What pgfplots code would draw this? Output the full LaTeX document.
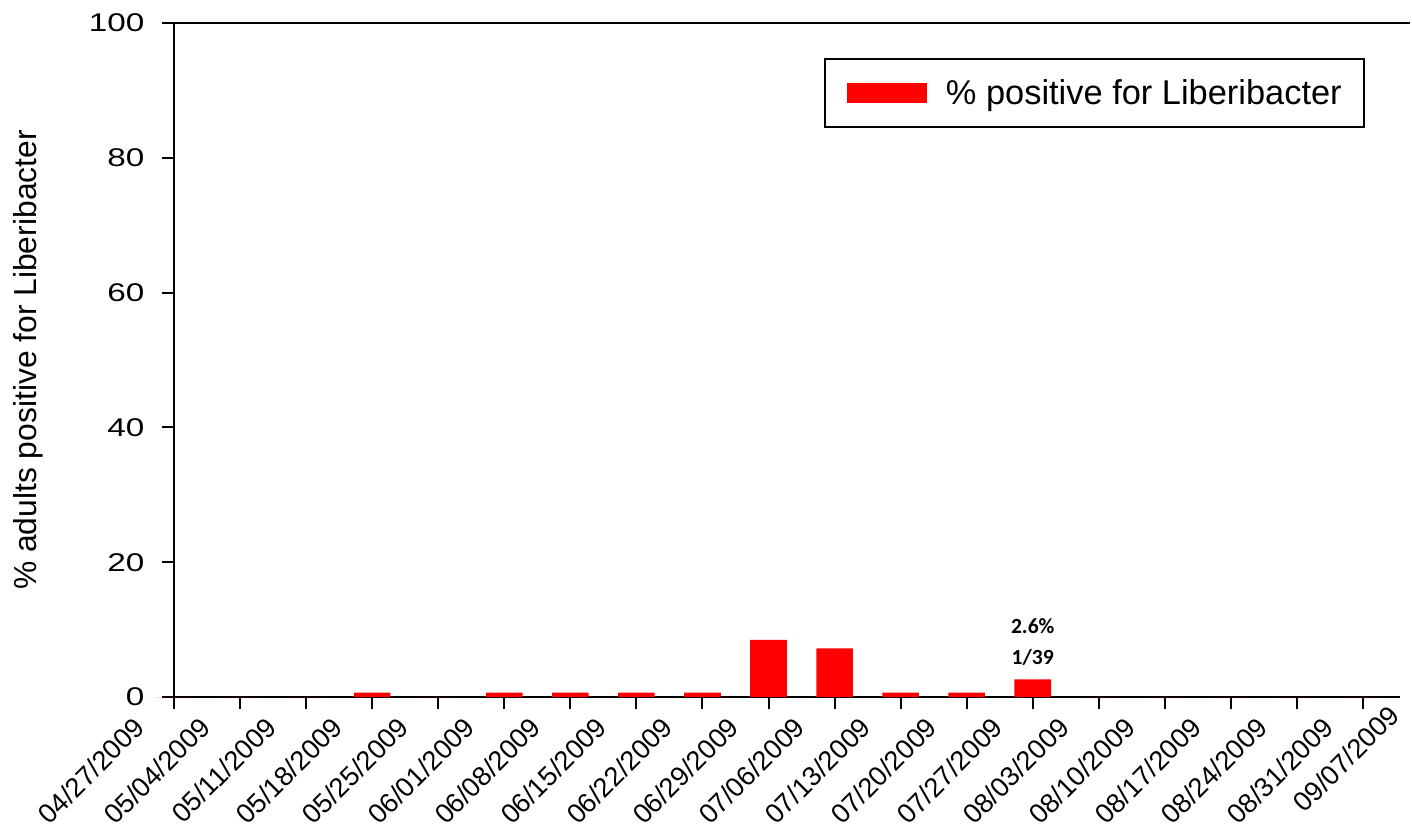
\documentclass[border=0pt]{standalone}
\usepackage{fontspec}
\setmainfont{Liberation Sans}
\newfontfamily\carlito{Carlito}
\usepackage{pgfplots}
\pgfplotsset{compat=1.18}

\tikzset{
  xlab/.style={font=\fontsize{13.6bp}{16bp}\selectfont, inner sep=0pt,
               xshift=-21bp, yshift=-3bp, rotate=45, anchor=north east},
  note/.style={font=\carlito\bfseries\fontsize{10.8bp}{12bp}\selectfont, inner sep=0pt},
}

\begin{document}
\begin{tikzpicture}
\begin{axis}[
  name=ax,
  scale only axis, width=613bp, height=337bp,
  xmin=0, xmax=18.56, ymin=0, ymax=100,
  axis x line*=bottom, axis y line*=left,
  axis line style={line width=1.3bp},
  tick align=outside,
  tick style={line width=1bp, black},
  major tick length=6bp,
  xtick={0,...,18},
  xticklabels={04/27/2009,05/04/2009,05/11/2009,05/18/2009,05/25/2009,
    06/01/2009,06/08/2009,06/15/2009,06/22/2009,06/29/2009,07/06/2009,
    07/13/2009,07/20/2009,07/27/2009,08/03/2009,08/10/2009,08/17/2009,
    08/24/2009,08/31/2009},
  xticklabel style={xlab},
  ytick={0,20,...,100},
  yticklabel style={font=\fontsize{12.8bp}{14bp}\selectfont, inner sep=0pt,
    anchor=east, xshift=-8.5bp, xscale=1.3},
  /pgf/number format/assume math mode=true,
  ylabel={\% adults positive for Liberibacter},
  ylabel style={at={(axis description cs:-0.1191,0.5)}, anchor=center,
    font=\fontsize{15.9bp}{18bp}\selectfont},
  ybar, bar width=18.3bp,
  legend style={at={(0.9714,0.948)}, anchor=north east, draw=black,
    line width=1.2bp, inner xsep=11bp, inner ysep=10bp,
    font=\fontsize{17.2bp}{19bp}\selectfont, nodes={inner sep=0pt},
    /tikz/every odd column/.append style={column sep=9.5bp}},
  clip=false,
]
\addplot[fill=red, draw=none,
  legend image code/.code={\fill[red] (0bp,-5bp) rectangle (40bp,5bp);}]
  coordinates {(0,0) (1,0) (2,0) (3,0.65) (4,0) (5,0.65) (6,0.65) (7,0.65)
    (8,0.65) (9,8.46) (10,7.2) (11,0.65) (12,0.65) (13,2.6) (14,0) (15,0)
    (16,0) (17,0) (18,0)};
\addlegendentry{\% positive for Liberibacter}

\draw[line width=1.3bp] (rel axis cs:0,1) -- ([xshift=5bp]rel axis cs:1,1);
\node[note] at (axis cs:13,10.5) {2.6\%};
\node[note] at (axis cs:13,5.9) {1/39};
\node[xlab] at (axis cs:19,0) {09/07/2009};
\end{axis}
\pgfresetboundingbox
\path[use as bounding box] ([xshift=-87bp, yshift=-67.5bp]ax.south west)
  rectangle ([xshift=6bp, yshift=11.5bp]ax.north east);
\end{tikzpicture}
\end{document}
